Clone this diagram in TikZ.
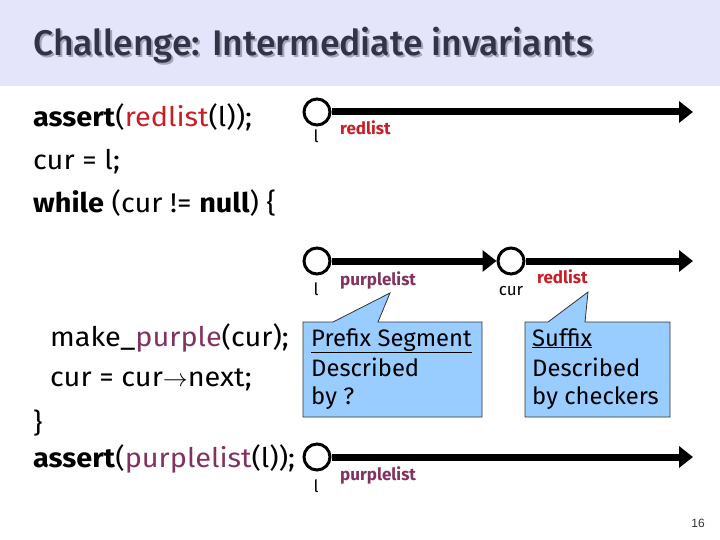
\documentclass[tikz,border=0pt]{standalone}
\usepackage{fontspec}
\setmainfont{Fira Sans}
\IfFontExistsTF{Fira Sans Medium}{\newfontfamily\titlefont{Fira Sans Medium}}{\newfontfamily\titlefont{Fira Sans}}
\newfontfamily\codefont[FakeStretch=1.07]{Fira Sans}
\newfontfamily\numfont{Liberation Sans}
\usetikzlibrary{arrows.meta}
\definecolor{band}{RGB}{228,228,250}
\definecolor{titlecol}{RGB}{50,50,72}
\definecolor{shadowcol}{RGB}{165,165,180}
\definecolor{redc}{RGB}{200,30,40}
\definecolor{purc}{RGB}{130,50,95}
\definecolor{calloutfill}{RGB}{153,204,255}
\tikzset{
  code/.style={anchor=base west, inner sep=0pt, font=\codefont\fontsize{27}{27}\selectfont},
  listnode/.style={circle, draw, line width=3pt, minimum size=26pt, inner sep=0pt},
  ptr/.style={line width=7pt, -{Triangle[length=14pt,width=21pt]}},
  lbl/.style={anchor=base, inner sep=0pt, font=\fontsize{17}{17}\selectfont},
  lbll/.style={anchor=base west, inner sep=0pt, font=\fontsize{17}{17}\selectfont\bfseries},
  ctext/.style={anchor=base west, inner sep=0pt, font=\fontsize{23.8}{23.8}\selectfont},
  callout/.style={fill=calloutfill, draw=black!80, line width=0.8pt}
}
\begin{document}
\begin{tikzpicture}[x=1pt,y=-1pt]
\useasboundingbox (0,0) rectangle (720,540);
\fill[band] (0,0) rectangle (720,86);
% title
\node[anchor=base west, inner sep=0pt, text=shadowcol, font=\titlefont\fontsize{35.6}{36}\selectfont] (tshadow) at (35,58) {Challenge: Intermediate invariants};
\node[anchor=base west, inner sep=0pt, text=titlecol, font=\titlefont\fontsize{35.6}{36}\selectfont] (title) at (33,56) {Challenge: Intermediate invariants};
% code
\node[code] (l1) at (33,127) {\textbf{assert}(\textcolor{redc}{redlist}(l));};
\node[code] (l2) at (33,170) {cur = l;};
\node[code] (l3) at (33,213) {\textbf{while} (cur != \textbf{null}) \{};
\node[code] (l4) at (50,346) {make\_\textcolor{purc}{purple}(cur);};
\node[code] (l5) at (50,386) {cur = cur$\rightarrow$next;};
\node[code] (l6) at (33,432) {\}};
\node[code] (l7) at (33,467) {\textbf{assert}(\textcolor{purc}{purplelist}(l));};
% row 1
\node[listnode] (c1) at (317,112) {};
\coordinate (e1) at (693,112);
\draw[ptr] (c1.east) -- (e1);
\node[lbl] (c1l) at (316,143) {l};
\node[lbll, text=redc] (c1t) at (340,135) {redlist};
% row 2
\node[listnode] (c2) at (317,261) {};
\node[listnode] (c3) at (511,261) {};
\coordinate (e3) at (693,261);
\draw[ptr] (c2.east) -- (c3.west);
\draw[ptr] (c3.east) -- (e3);
\node[lbl] (c2l) at (316,295) {l};
\node[lbll, text=purc] (c2t) at (340,285) {purplelist};
\node[lbl] (c3l) at (511,295) {cur};
\node[lbll, text=redc] (c3t) at (537,283) {redlist};
% row 3
\node[listnode] (c4) at (317,457) {};
\coordinate (e4) at (693,457);
\draw[ptr] (c4.east) -- (e4);
\node[lbl] (c4l) at (316,492) {l};
\node[lbll, text=purc] (c4t) at (340,480) {purplelist};
% callouts
\path[callout] (303,322) -- (333,322) -- (390,293) -- (378,322) -- (482,322) -- (482,417) -- (303,417) -- cycle;
\path[callout] (525,322) -- (548,322) -- (588,292) -- (585,322) -- (670,322) -- (670,417) -- (525,417) -- cycle;
\node[ctext] (p1) at (311,346) {\underline{Prefix Segment}};
\node[ctext] (p2) at (311,376) {Described};
\node[ctext] (p3) at (311,404) {by ?};
\node[ctext] (s1) at (532,346) {\underline{Suffix}};
\node[ctext] (s2) at (532,376) {Described};
\node[ctext] (s3) at (532,404) {by checkers};
% page number
\node[anchor=base, inner sep=0pt, text=black!80, font=\numfont\fontsize{12}{12}\selectfont] (pg) at (698,527) {16};
\end{tikzpicture}
\end{document}
